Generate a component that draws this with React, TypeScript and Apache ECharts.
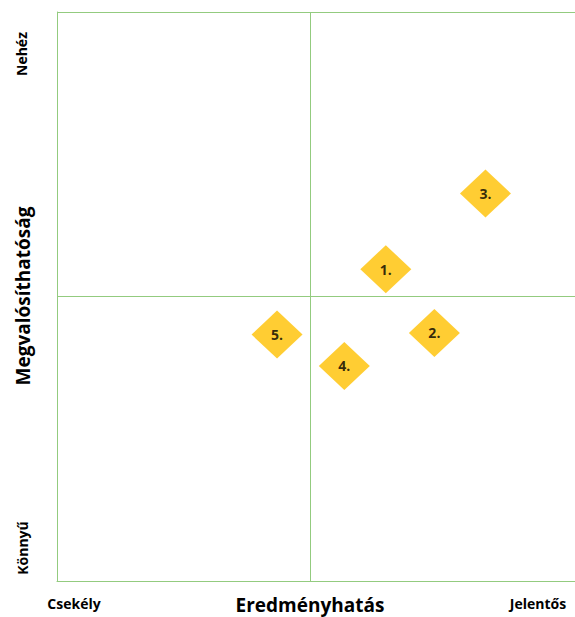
import React, { useEffect, useRef } from "react";
import * as echarts from "echarts";

const pointLabels = ["1.", "2.", "3.", "4.", "5."];
const effectValues = [6.5, 7.46, 8.47, 5.68, 4.35];
const feasibilityValues = [5.48, 4.36, 6.81, 3.78, 4.33];

const xMin = 0;
const xMax = 10.24;
const xMid = 5;
const yMin = 0;
const yMax = 10;
const yMid = 5;

const xAxisTitle = "Eredményhatás";
const yAxisTitle = "Megvalósíthatóság";
const xLowLabel = "Csekély";
const xHighLabel = "Jelentős";
const yLowLabel = "Könnyű";
const yHighLabel = "Nehéz";

const GREEN = "#93CB7F";
const FONT = "'Open Sans', 'Noto Sans', sans-serif";

export default function App() {
  const ref = useRef<HTMLDivElement>(null);
  useEffect(() => {
    if (!ref.current) return;
    const chart = echarts.init(ref.current, undefined, { renderer: "svg" });
    const data = pointLabels.map((l, i) => [effectValues[i], feasibilityValues[i], l]);
    const txt = (text: string, x: number, y: number, size: number, rot = 0) => ({
      type: "text",
      x,
      y,
      rotation: rot,
      style: {
        text,
        fill: "#000",
        font: `bold ${size}px ${FONT}`,
        textAlign: "center",
        textVerticalAlign: "middle",
      },
    });
    chart.setOption({
      animation: false,
      backgroundColor: "#ffffff",
      grid: { left: 57, top: 12, right: 0, bottom: 36 },
      xAxis: {
        type: "value",
        min: xMin,
        max: xMax,
        axisLine: { show: true, onZero: false, lineStyle: { color: GREEN, width: 1 } },
        axisTick: { show: false },
        axisLabel: { show: false },
        splitLine: { show: false },
      },
      yAxis: {
        type: "value",
        min: yMin,
        max: yMax,
        axisLine: { show: true, onZero: false, lineStyle: { color: GREEN, width: 1 } },
        axisTick: { show: false },
        axisLabel: { show: false },
        splitLine: { show: false },
      },
      series: [
        {
          type: "scatter",
          symbol: "diamond",
          symbolSize: [51, 48],
          itemStyle: { color: "#FFC000" },
          data,
          label: {
            show: true,
            position: "inside",
            formatter: (p: any) => p.value[2],
            color: "#000000",
            fontFamily: FONT,
            fontWeight: "bold",
            fontSize: 14,
          },
          markLine: {
            silent: true,
            symbol: "none",
            label: { show: false },
            lineStyle: { color: GREEN, width: 1, type: "solid" },
            data: [{ xAxis: xMid }, { yAxis: yMid }, { yAxis: yMax }],
          },
          z: 5,
        },
      ],
      graphic: [
        txt(xAxisTitle, 310, 605, 19),
        txt(yAxisTitle, 23, 296, 19, Math.PI / 2),
        txt(xLowLabel, 74, 603, 14),
        txt(xHighLabel, 538, 603, 14),
        txt(yLowLabel, 22, 548, 14, Math.PI / 2),
        txt(yHighLabel, 21, 54, 14, Math.PI / 2),
      ],
    });
    return () => chart.dispose();
  }, []);
  return (
    <div
      ref={ref}
      style={{ position: "fixed", left: 0, top: 0, width: 575, height: 617 }}
    />
  );
}
